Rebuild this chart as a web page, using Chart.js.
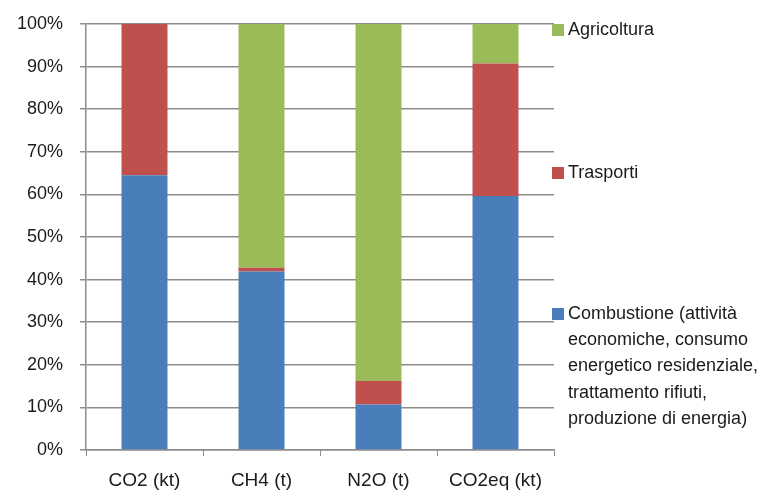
<!DOCTYPE html>
<html>
<head>
<meta charset="utf-8">
<script src="https://cdn.jsdelivr.net/npm/chart.js@4/dist/chart.umd.min.js"></script>
<style>
  html, body { margin: 0; padding: 0; background: #fff; }
  #wrap { width: 771px; height: 491px; position: relative; }
</style>
</head>
<body>
<div id="wrap"><canvas id="emis-chart" width="771" height="491"></canvas></div>
<script>
let categories = ['CO2 (kt)', 'CH4 (t)', 'N2O (t)', 'CO2eq (kt)'];
let combustione = [64.5, 41.9, 10.7, 59.6];
let trasporti = [35.5, 0.9, 5.5, 31.1];
let agricoltura = [0, 57.2, 83.8, 9.3];
let seriesNames = [
  ['Combustione (attività', 'economiche, consumo', 'energetico residenziale,', 'trattamento rifiuti,', 'produzione di energia)'],
  ['Trasporti'],
  ['Agricoltura']
];
let colours = ['#4a7ebb', '#c0504d', '#9bbb59'];

const FONT = '"Liberation Sans", Arial, sans-serif';
const GRID = '#8c8c8c';

// legend boxes sit where Excel put them, beside the plot
const legendPos = [
  { y: 314 },   // Combustione
  { y: 173 },   // Trasporti
  { y: 30 }     // Agricoltura
];

const sideLegend = {
  id: 'sideLegend',
  afterDraw(chart) {
    const ctx = chart.ctx;
    ctx.save();
    ctx.font = '18px ' + FONT;
    ctx.textBaseline = 'middle';
    ctx.textAlign = 'left';
    chart.data.datasets.forEach((ds, i) => {
      const y = legendPos[i].y;
      ctx.fillStyle = ds.backgroundColor;
      ctx.fillRect(552, y - 6, 12, 12);
      ctx.fillStyle = '#1a1a1a';
      seriesNames[i].forEach((line, j) => {
        ctx.fillText(line, 568, y + j * 26.2);
      });
    });
    ctx.restore();
  }
};

window.addEventListener('DOMContentLoaded', () => {
  const box = document.getElementById('emis-chart');
  new Chart(box, {
    type: 'bar',
    data: {
      labels: categories,
      datasets: [
        { label: 'Combustione', data: combustione, backgroundColor: colours[0] },
        { label: 'Trasporti', data: trasporti, backgroundColor: colours[1] },
        { label: 'Agricoltura', data: agricoltura, backgroundColor: colours[2] }
      ].map(d => Object.assign(d, { borderWidth: 0, barPercentage: 0.393, categoryPercentage: 1 }))
    },
    options: {
      responsive: false,
      animation: false,
      layout: { padding: { top: 24, right: 217, left: 0, bottom: 0 } },
      plugins: {
        legend: { display: false },
        tooltip: { enabled: false }
      },
      scales: {
        x: {
          stacked: true,
          offset: true,
          grid: { display: true, drawOnChartArea: false, drawTicks: true, tickLength: 6, color: GRID, offset: true },
          border: { display: true, color: GRID, width: 1.5 },
          ticks: { color: '#1a1a1a', font: { family: FONT, size: 19 }, padding: 13, maxRotation: 0 },
          afterFit: (s) => { s.height = 41; }
        },
        y: {
          stacked: true,
          min: 0,
          max: 100,
          grid: { color: GRID, lineWidth: 1.5, tickLength: 6, drawTicks: true },
          border: { display: true, color: GRID, width: 1.5 },
          ticks: {
            stepSize: 10,
            padding: 17,
            color: '#1a1a1a',
            font: { family: FONT, size: 18 },
            callback: (v) => v + '%'
          },
          // label padding is horizontal here, don't let it push the top down
          afterFit: (s) => { s.width = 86; s.paddingTop = 10; s.paddingBottom = 10; }
        }
      }
    },
    plugins: [sideLegend]
  });
});
</script>
</body>
</html>
